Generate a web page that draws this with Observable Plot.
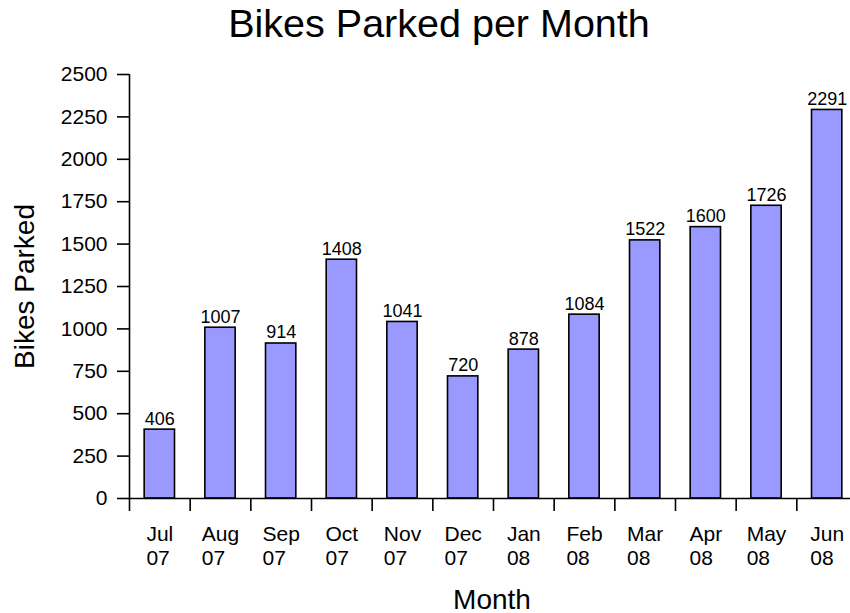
<!DOCTYPE html>
<html><head><meta charset="utf-8">
<script src="https://cdn.jsdelivr.net/npm/d3@7"></script>
<script src="https://cdn.jsdelivr.net/npm/@observablehq/plot@0.6"></script>
<style>body{margin:0;background:#fff} svg{font-family:"Liberation Sans",Arial,sans-serif}</style>
</head><body><div id="chart"></div>
<script>
const months = ["Jul","Aug","Sep","Oct","Nov","Dec","Jan","Feb","Mar","Apr","May","Jun"];
const years = ["07","07","07","07","07","07","08","08","08","08","08","08"];
const values = [406,1007,914,1408,1041,720,878,1084,1522,1600,1726,2291];
const yTicks = [0,250,500,750,1000,1250,1500,1750,2000,2250,2500];
const title = "Bikes Parked per Month";
const xLabel = "Month";
const yLabel = "Bikes Parked";

const FONT = '"Liberation Sans", Arial, sans-serif';
const data = months.map((m, i) => ({i, month: m, year: years[i], value: values[i]}));
const BAND = (857 - 129) / months.length;
const ctx = document.createElement("canvas").getContext("2d");
ctx.font = `21px ${FONT}`;
const w = s => ctx.measureText(s).width;

const plot = Plot.plot({
  width: 850, height: 613,
  marginLeft: 129, marginRight: 0, marginTop: 74, marginBottom: 115,
  style: {fontFamily: FONT, background: "#fff", color: "#000"},
  x: {type: "linear", domain: [0, months.length], range: [129, 857]},
  y: {domain: [0, 2500], range: [498, 74]},
  marks: [
    Plot.rectY(data, {x1: d => d.i + 0.25, x2: d => d.i + 0.75, y1: 0, y2: "value", fill: "#9999ff", stroke: "#000", strokeWidth: 1.6}),
    Plot.ruleX([0], {y1: 0, y2: 2500, stroke: "#000", strokeWidth: 1.6}),
    Plot.ruleY([0], {stroke: "#000", strokeWidth: 1.6}),
    Plot.axisY({ticks: yTicks, tickSize: 12, tickPadding: 10, fontSize: 21, fontFamily: FONT, label: null, strokeWidth: 1.6, tickFormat: d => String(d)}),
    Plot.axisX({ticks: d3.range(0, months.length + 1), tickSize: 13, tickFormat: () => "", label: null, strokeWidth: 1.6}),
    Plot.text(data, {x: d => d.i + 0.5, y: 0, text: "month", dy: 42, lineAnchor: "bottom", fontSize: 21, fontFamily: FONT, fill: "#000"}),
    Plot.text(data, {x: d => d.i + 0.5 - w(d.month) / 2 / BAND, y: 0, text: "year", dy: 66, lineAnchor: "bottom", textAnchor: "start", fontSize: 21, fontFamily: FONT, fill: "#000"}),
    Plot.text(data, {x: d => d.i + 0.5, y: "value", text: d => String(d.value), dy: -5, lineAnchor: "bottom", fontSize: 18, fontFamily: FONT, fill: "#000"}),
    Plot.text([title], {frameAnchor: "top", dx: -51, dy: -38, lineAnchor: "bottom", textAnchor: "middle", fontSize: 39.5, fontFamily: FONT, fill: "#000"}),
    Plot.text([yLabel], {frameAnchor: "left", rotate: -90, dx: -96, lineAnchor: "bottom", textAnchor: "middle", fontSize: 28, fontFamily: FONT, fill: "#000"}),
    Plot.text([xLabel], {frameAnchor: "bottom", dx: 2, dy: 110, lineAnchor: "bottom", textAnchor: "middle", fontSize: 28, fontFamily: FONT, fill: "#000"})
  ]
});
document.getElementById("chart").appendChild(plot);
</script>
</body></html>
